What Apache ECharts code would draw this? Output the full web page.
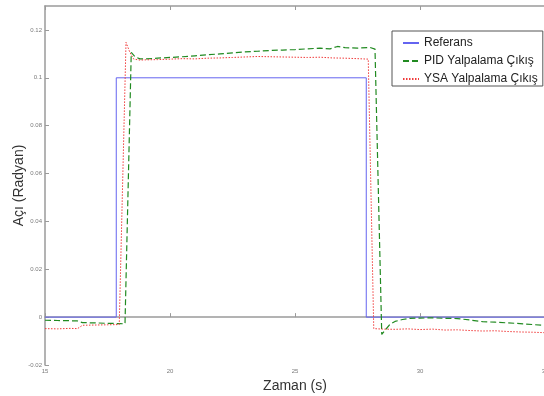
<!DOCTYPE html>
<html>
<head>
<meta charset="utf-8">
<script src="https://cdn.jsdelivr.net/npm/echarts@6/dist/echarts.min.js"></script>
<style>html,body{margin:0;padding:0;background:#fff;}#c{width:544px;height:396px;}</style>
</head>
<body>
<div id="c"></div>
<script>
const seriesNames = ['Referans', 'PID Yalpalama Çıkış', 'YSA Yalpalama Çıkış'];
const xTicks = [15, 20, 25, 30, 35];
const yTicks = [-0.02, 0, 0.02, 0.04, 0.06, 0.08, 0.1, 0.12];

const refT = [15, 17.85, 17.85, 27.85, 27.85, 35];
const refV = [0, 0, 0.1, 0.1, 0, 0];

const pidT = [15, 15.5, 16, 16.3, 16.5, 17, 17.5, 18, 18.2, 18.45, 18.6, 18.8, 19, 19.5, 20, 20.5, 21, 21.5, 22, 22.5, 23, 23.5, 24, 24.5, 25, 25.5, 26, 26.4, 26.7, 27, 27.5, 28, 28.2, 28.47, 28.6, 28.8, 29, 29.3, 29.6, 30, 30.5, 31, 31.5, 32, 32.5, 33, 33.5, 34, 34.5, 35];
const pidV = [-0.0013, -0.0014, -0.0015, -0.0016, -0.0023, -0.0024, -0.0026, -0.0027, -0.0028, 0.1106, 0.1088, 0.1079, 0.1079, 0.1082, 0.1085, 0.1088, 0.1092, 0.1096, 0.1100, 0.1104, 0.1108, 0.1111, 0.1114, 0.1116, 0.1118, 0.1121, 0.1124, 0.1121, 0.1131, 0.1126, 0.1124, 0.1127, 0.1120, -0.0072, -0.0055, -0.0030, -0.0018, -0.0010, -0.0005, -0.0004, -0.0003, -0.0005, -0.0006, -0.0012, -0.0019, -0.0021, -0.0024, -0.0027, -0.0031, -0.0035];

const ysaT = [15, 15.5, 16, 16.3, 16.5, 17, 17.5, 17.97, 18.24, 18.4, 18.55, 18.8, 19, 19.5, 20, 20.5, 21, 21.5, 22, 22.5, 23, 23.5, 24, 24.5, 25, 25.5, 26, 26.5, 27, 27.5, 27.93, 28.15, 28.5, 29, 29.5, 30, 30.5, 31, 31.5, 32, 32.5, 33, 33.5, 34, 34.5, 35];
const ysaV = [-0.0048, -0.0049, -0.0047, -0.0048, -0.0034, -0.0033, -0.0032, -0.0031, 0.1148, 0.1105, 0.1078, 0.1074, 0.1075, 0.1076, 0.1078, 0.1080, 0.1079, 0.1082, 0.1083, 0.1085, 0.1087, 0.1089, 0.1088, 0.1087, 0.1086, 0.1085, 0.1086, 0.1083, 0.1082, 0.1080, 0.1078, -0.0048, -0.0050, -0.0051, -0.0049, -0.0052, -0.0050, -0.0054, -0.0053, -0.0056, -0.0058, -0.0057, -0.0060, -0.0062, -0.0063, -0.0065];

function pairs(t, v) { return t.map((x, i) => [x, v[i]]); }

const chart = echarts.init(document.getElementById('c'), null, {renderer: 'canvas'});
const axisGray = '#9a9a9a';
const labelStyle = {color: '#7a7a7a', fontSize: 6, fontFamily: 'Liberation Sans'};
chart.setOption({
  animation: false,
  backgroundColor: '#ffffff',
  grid: {left: 45, top: 6, right: -1, bottom: 31, containLabel: false, outerBoundsMode: 'none'},
  legend: {
    show: true,
    orient: 'vertical', left: 392, top: 31,
    padding: [6, 5, 1, 10],
    itemWidth: 16, itemHeight: 13, itemGap: 6,
    backgroundColor: '#ffffff', borderColor: '#555555', borderWidth: 1,
    itemStyle: {color: 'rgba(0,0,0,0)', borderColor: 'rgba(0,0,0,0)', borderWidth: 0},
    textStyle: {fontSize: 12, color: '#222222', fontFamily: 'Liberation Sans'},
    data: seriesNames
  },
  xAxis: [{
    type: 'value', min: xTicks[0], max: xTicks[xTicks.length - 1], interval: 5,
    name: 'Zaman (s)', nameLocation: 'middle', nameGap: 14, nameMoveOverlap: false,
    nameTextStyle: {fontSize: 14, color: '#333333', fontFamily: 'Liberation Sans'},
    axisLine: {show: true, lineStyle: {color: axisGray, width: 1.5}},
    axisTick: {show: true, inside: true, length: 4, lineStyle: {color: axisGray}},
    axisLabel: Object.assign({margin: 3}, labelStyle),
    splitLine: {show: false}
  }, {
    type: 'value', position: 'top', min: 15, max: 35, interval: 5,
    axisLine: {show: true, lineStyle: {color: axisGray, width: 1.5}},
    axisTick: {show: true, inside: true, length: 4, lineStyle: {color: axisGray}},
    axisLabel: {show: false}, splitLine: {show: false}
  }],
  yAxis: [{
    type: 'value', min: -0.02, max: 0.13, interval: 0.02,
    name: 'Açı (Radyan)', nameLocation: 'middle', nameGap: 19, nameMoveOverlap: false,
    nameTextStyle: {fontSize: 14, color: '#333333', fontFamily: 'Liberation Sans'},
    axisLine: {show: true, lineStyle: {color: axisGray, width: 1.5}},
    axisTick: {show: true, inside: true, length: 4, lineStyle: {color: axisGray}},
    axisLabel: Object.assign({margin: 3, showMaxLabel: false, formatter: v => (yTicks.some(t => Math.abs(t - v) < 1e-9) ? String(+v.toFixed(3)) : '')}, labelStyle),
    splitLine: {show: false}
  }],
  series: [
    {name: seriesNames[0], type: 'line', symbol: 'none', data: pairs(refT, refV),
     lineStyle: {color: '#6464f0', width: 1, type: 'solid'}, itemStyle: {color: '#6464f0'}, z: 2},
    {name: seriesNames[1], type: 'line', symbol: 'none', data: pairs(pidT, pidV),
     lineStyle: {color: '#218a21', width: 1.2, type: [6, 3]}, itemStyle: {color: '#218a21'}, z: 3},
    {name: seriesNames[2], type: 'line', symbol: 'none', data: pairs(ysaT, ysaV),
     lineStyle: {color: '#f03a3a', width: 1, type: [1.5, 1.5]}, itemStyle: {color: '#f03a3a'}, z: 4}
  ]
});
</script>
</body>
</html>
